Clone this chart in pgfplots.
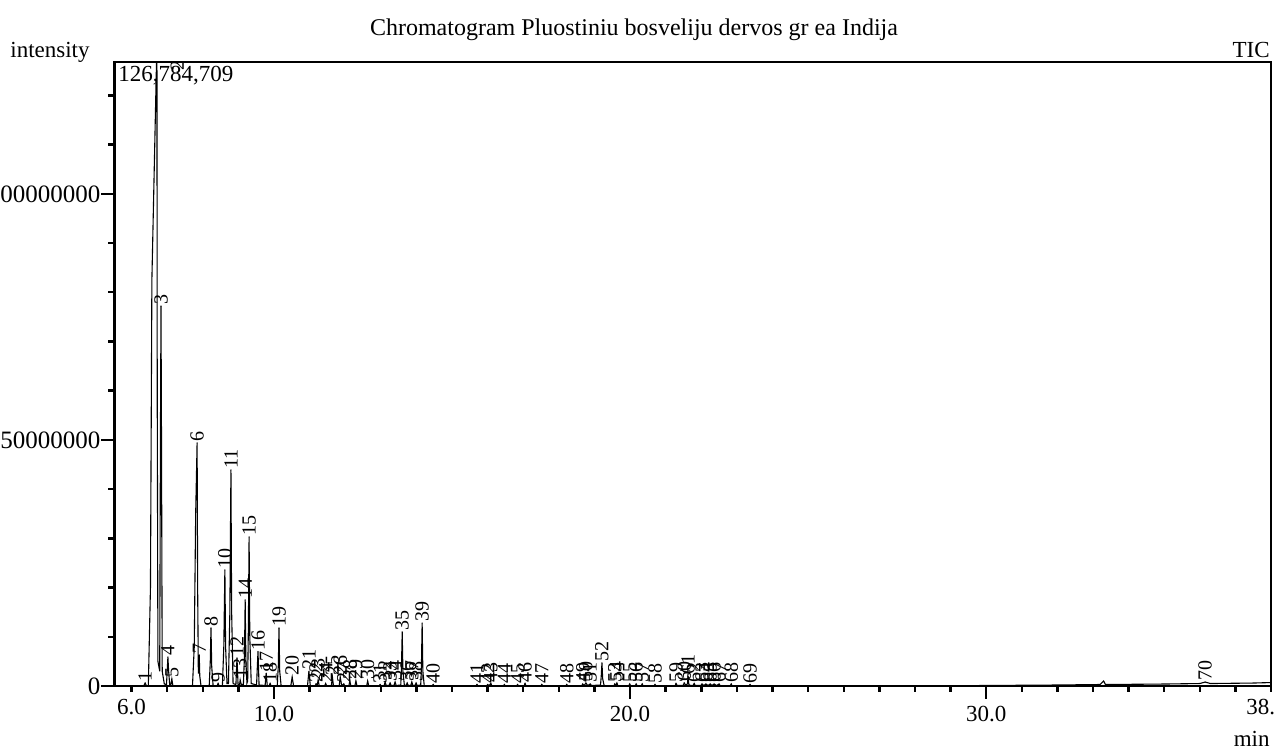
\documentclass[border=0pt]{standalone}
\usepackage{pgfplots}
\pgfplotsset{compat=1.18}
\usepackage{fontspec}
\setmainfont{Liberation Serif}
\newcommand{\mainsz}{\fontsize{11.5}{13.8}\selectfont}
\newcommand{\ysz}{\fontsize{12.5}{15}\selectfont}
\newcommand{\titsz}{\fontsize{12}{14.4}\selectfont}
\newcommand{\labsz}{\fontsize{10}{12}\selectfont}
\begin{document}
\begin{tikzpicture}
\useasboundingbox (-57.25pt,-31.5pt) rectangle (583.25pt,343pt);
\begin{axis}[
  scale only axis, width=578.25pt, height=312pt,
  at={(0,0)}, anchor=south west,
  xmin=5.52, xmax=38, ymin=0, ymax=126784709,
  clip=false,
  axis line style={line width=1.4pt},
  tick style={line width=1.2pt, black},
  tick align=outside, xtick pos=bottom, ytick pos=left,
  major tick length=6.5pt, minor tick length=3pt,
  xtick={10,20,30}, xticklabels={10.0,20.0,30.0},
  extra x ticks={6,38}, extra x tick labels={6.0,\makebox[4pt][r]{38.}},
  extra x tick style={major tick length=3pt},
  minor xtick={7,8,...,37},
  ytick={0,50000000,100000000}, yticklabels={0,50000000,100000000},
  minor ytick={10000000,20000000,...,120000000},
  scaled y ticks=false,
  /pgf/number format/assume math mode=true,
  xticklabel style={font=\mainsz},
  yticklabel style={font=\ysz, xshift=3pt},
  every node near coord/.append style={font=\labsz, rotate=90, anchor=west, inner sep=0.5pt, black},
]
\addplot[black, line width=0.55pt] table {
5.52 0
6.34 0
6.38 600000
6.42 0
6.47 0
6.53 20000000
6.57 82500000
6.70 126784709
6.712 126784709
6.72 60000000
6.74 5000000
6.79 3000000
6.81 50000000
6.826 77200000
6.84 50000000
6.86 3000000
6.92 400000
6.98 300000
7.00 3000000
7.02 5900000
7.04 3000000
7.07 300000
7.10 200000
7.13 1400000
7.16 0
7.71 0
7.76 8000000
7.80 35000000
7.84 49400000
7.855 20000000
7.875 2500000
7.89 5000000
7.90 6300000
7.915 2000000
7.95 0
8.18 0
8.21 5000000
8.23 11800000
8.25 4000000
8.29 0
8.40 0
8.43 500000
8.46 0
8.55 0
8.59 8000000
8.62 23600000
8.64 8000000
8.68 500000
8.72 500000
8.76 15000000
8.79 43900000
8.81 15000000
8.85 500000
8.93 300000
8.96 5700000
8.99 300000
9.03 200000
9.05 1200000
9.08 300000
9.14 300000
9.17 6000000
9.19 17500000
9.21 5000000
9.24 600000
9.26 1000000
9.28 12000000
9.30 30300000
9.32 10000000
9.36 500000
9.51 200000
9.55 7000000
9.58 200000
9.75 100000
9.78 2600000
9.81 100000
9.86 0
9.89 500000
9.92 0
10.09 0
10.12 4000000
10.14 11800000
10.16 3000000
10.20 0
10.47 0
10.51 1800000
10.55 0
10.94 0
10.98 3000000
11.02 0
11.15 0
11.18 400000
11.21 100000
11.24 1200000
11.27 0
11.42 0
11.45 500000
11.48 0
11.61 0
11.64 1800000
11.67 0
11.83 0
11.86 1800000
11.90 100000
11.96 400000
11.99 0
12.10 0
12.13 1000000
12.16 0
12.27 0
12.30 1000000
12.33 0
12.60 0
12.63 1000000
12.66 0
12.95 0
12.98 300000
13.01 0
13.09 0
13.12 800000
13.15 100000
13.23 100000
13.26 600000
13.29 100000
13.37 100000
13.40 800000
13.43 100000
13.56 200000
13.58 4000000
13.60 11000000
13.62 3000000
13.66 200000
13.71 100000
13.74 600000
13.77 100000
13.84 100000
13.87 800000
13.90 100000
13.96 100000
13.99 600000
14.02 100000
14.12 200000
14.14 4000000
14.16 12800000
14.18 3000000
14.22 0
14.44 0
14.47 300000
14.50 0
15.67 0
15.70 300000
15.73 0
15.97 0
16.00 300000
16.04 100000
16.09 500000
16.12 0
16.44 0
16.47 300000
16.50 0
16.81 0
16.84 300000
16.87 0
17.02 0
17.05 500000
17.08 0
17.49 0
17.52 300000
17.55 0
18.19 0
18.22 300000
18.25 0
18.64 0
18.67 400000
18.71 100000
18.76 600000
18.81 100000
18.88 400000
18.92 100000
19.17 200000
19.19 2000000
19.21 4700000
19.23 1500000
19.27 100000
19.54 0
19.57 400000
19.60 100000
19.63 600000
19.66 0
19.96 0
19.99 400000
20.02 0
20.14 0
20.17 400000
20.20 0
20.31 0
20.34 400000
20.37 0
20.67 0
20.70 300000
20.73 0
21.26 0
21.29 500000
21.32 100000
21.49 100000
21.52 600000
21.56 200000
21.61 400000
21.63 2000000
21.65 300000
21.70 100000
21.77 100000
21.80 500000
21.83 100000
21.99 100000
22.02 400000
22.07 100000
22.13 400000
22.19 100000
22.25 400000
22.30 100000
22.36 400000
22.43 100000
22.50 400000
22.54 0
22.81 0
22.84 400000
22.87 0
23.34 0
23.37 300000
23.40 0
28.0 0
30.0 100000
32.0 200000
33.2 300000
33.3 1000000
33.35 300000
35.0 400000
36.0 500000
36.15 800000
36.3 500000
37.5 600000
38.0 700000
};
\addplot[only marks, mark=*, mark size=0.01pt, mark options={draw=none, fill=none},
  nodes near coords, point meta=explicit symbolic]
  table[x=t, y=y, meta=lab] {
t y lab
6.38 600000 1
7.28 124800000 2
6.826 77200000 3
7.02 5900000 4
7.13 1400000 5
7.84 49400000 6
7.90 6300000 7
8.23 11800000 8
8.43 500000 9
8.62 23600000 10
8.79 43900000 11
8.96 5700000 12
9.05 1200000 13
9.19 17500000 14
9.30 30300000 15
9.55 7000000 16
9.78 2600000 17
9.89 500000 18
10.14 11800000 19
10.51 1800000 20
10.98 3000000 21
11.18 400000 22
11.24 1200000 23
11.45 500000 24
11.64 1800000 25
11.86 1800000 26
11.96 400000 27
12.13 1000000 28
12.30 1000000 29
12.63 1000000 30
12.98 300000 31
13.12 800000 32
13.26 600000 33
13.40 800000 34
13.60 11000000 35
13.74 600000 36
13.87 800000 37
13.99 600000 38
14.16 12800000 39
14.47 300000 40
15.70 300000 41
16.00 300000 42
16.09 500000 43
16.47 300000 44
16.84 300000 45
17.05 500000 46
17.52 300000 47
18.22 300000 48
18.67 400000 49
18.76 600000 50
18.88 400000 51
19.21 4700000 52
19.57 400000 53
19.63 600000 54
19.99 400000 55
20.17 400000 56
20.34 400000 57
20.70 300000 58
21.29 500000 59
21.52 600000 60
21.63 2000000 61
21.80 500000 62
22.02 400000 63
22.13 400000 64
22.25 400000 65
22.36 400000 66
22.50 400000 67
22.84 400000 68
23.37 300000 69
36.15 800000 70
};
\node[anchor=north west, inner sep=0pt, font=\mainsz] at ([xshift=1.75pt,yshift=-2pt]rel axis cs:0,1) {126,784,709};
\end{axis}
\node[anchor=base, font=\titsz] at (259.75pt,325pt) {Chromatogram Pluostiniu bosveliju dervos gr ea Indija};
\node[anchor=base west, inner sep=0pt, font=\mainsz] at (-52.25pt,314pt) {intensity};
\node[anchor=base east, inner sep=0pt, font=\mainsz] at (577.75pt,314pt) {TIC};
\node[anchor=base east, inner sep=0pt, font=\mainsz] at (577.75pt,-30.5pt) {min};
\end{tikzpicture}
\end{document}
